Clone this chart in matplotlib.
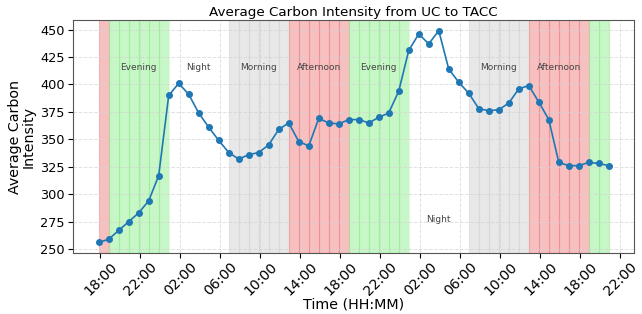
import matplotlib
matplotlib.use("Agg")
import matplotlib.pyplot as plt
import matplotlib.dates as mdates
import pandas as pd

start_time = "2024-01-01 17:50"
values = [256, 259, 267, 275, 283, 294, 317, 390, 401, 391, 374, 361, 349, 338,
          332, 336, 338, 345, 359, 365, 348, 344, 369, 365, 364, 368, 368,
          365, 370, 374, 394, 431, 446, 437, 449, 414, 402, 392, 378, 376, 377,
          383, 396, 399, 384, 368, 329, 326, 326, 329, 328, 326]

period_names = ["Night", "Morning", "Afternoon", "Evening"]
period_colors = {"Night": "white", "Morning": "lightgray",
                 "Afternoon": "lightcoral", "Evening": "lightgreen"}

times = pd.date_range(start_time, periods=len(values), freq="h")


def period_of(t):
    return period_names[t.hour // 6]


fig = plt.figure(figsize=(6.42, 3.14), dpi=100)
ax = fig.add_axes([0.114, 0.194, 0.874, 0.742])

periods = [period_of(t) for t in times]
for i in range(len(times) - 1):
    ax.axvspan(times[i], times[i + 1], color=period_colors[periods[i]], alpha=0.5, lw=0.8)

ax.plot(times, values, marker="o", markersize=4, color="#1f77b4", lw=1.2, zorder=3)

# label groups of a full period
groups = []
s = 0
for i in range(1, len(periods) + 1):
    if i == len(periods) or periods[i] != periods[s]:
        groups.append((s, i, periods[s]))
        s = i
label_y_default = 415
label_y_low = 277
for s, e, p in groups:
    if e - s >= 6:
        mid = times[s] + (times[e - 1] + pd.Timedelta(hours=1) - times[s]) / 2
        seg = values[s:e]
        y = label_y_low if max(seg) > 405 and p == "Night" else label_y_default
        ax.text(mid, y, p, ha="center", va="center", fontsize=6.5, color="#444444")

ax.xaxis.set_major_locator(mdates.HourLocator(byhour=[2, 6, 10, 14, 18, 22]))
ax.xaxis.set_major_formatter(mdates.DateFormatter("%H:%M"))
ax.tick_params(axis="y", labelsize=9.3, pad=2.5)
ax.tick_params(axis="x", labelsize=10.2, pad=1.5)
plt.setp(ax.get_xticklabels(), rotation=45, ha="center", rotation_mode="default")
ax.set_yticks([250, 275, 300, 325, 350, 375, 400, 425, 450])
ax.grid(True, linestyle="--", color="lightgray", alpha=0.7, lw=0.7)
ax.set_xlabel("Time (HH:MM)", fontsize=10.3, labelpad=-1)
ax.set_ylabel("Average Carbon\nIntensity", fontsize=10.3, labelpad=3, linespacing=1.0)
ax.set_title("Average Carbon Intensity from UC to TACC", fontsize=9.7, pad=3)
for sp in ax.spines.values():
    sp.set_color("#555555")

fig.savefig("out.png", dpi=100)
